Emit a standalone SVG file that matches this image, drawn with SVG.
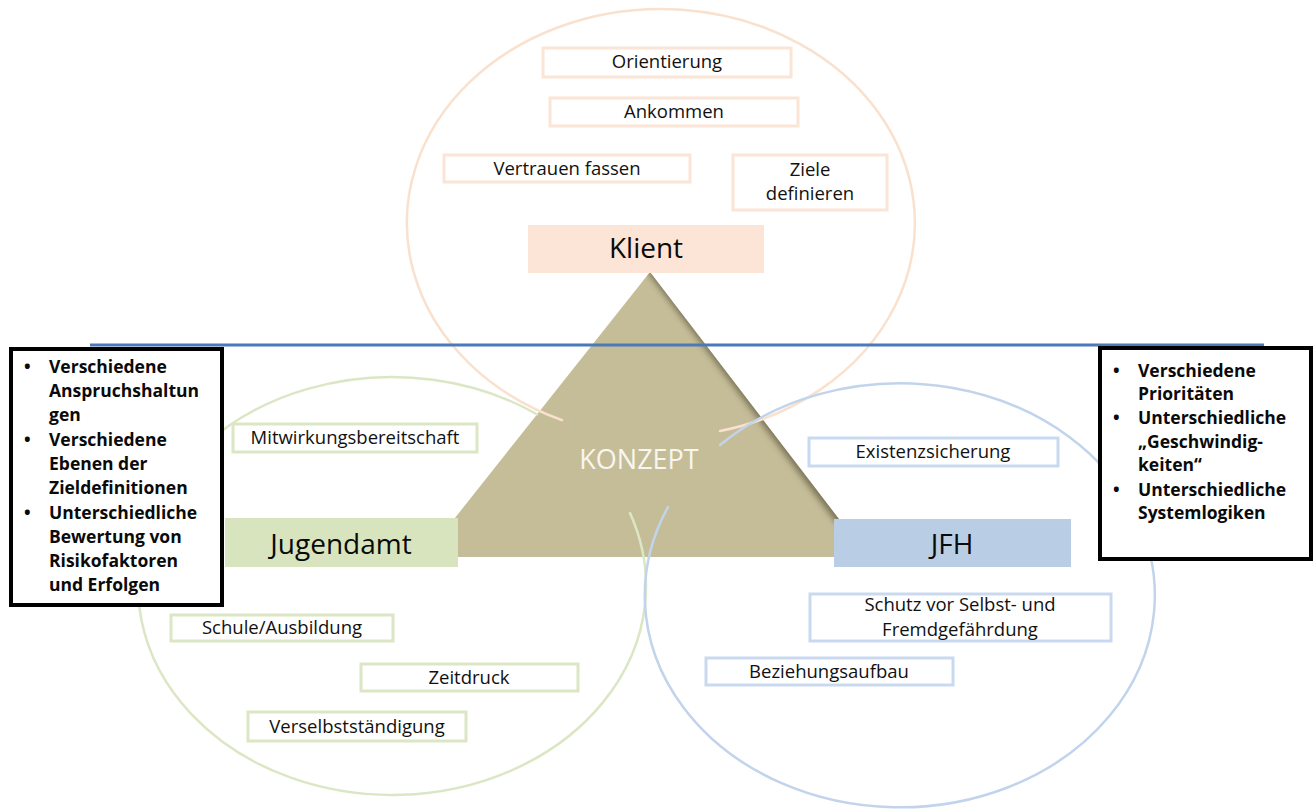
<svg xmlns="http://www.w3.org/2000/svg" width="1316" height="809" viewBox="0 0 1316 809">
  <style>
    .lbl { font-family: "Open Sans", "Liberation Sans", sans-serif; font-size: 18.5px; fill: #111; text-anchor: middle; }
    .big { font-family: "Open Sans", "Liberation Sans", sans-serif; font-size: 28px; fill: #0a0a0a; text-anchor: middle; }
    .bul { font-family: "Open Sans", "Liberation Sans", sans-serif; font-size: 17.5px; font-weight: bold; fill: #0a0a0a; }
    .pbox { fill: #fff; stroke: #fbe5d6; stroke-width: 3; }
    .gbox { fill: #fff; stroke: #dbe6c4; stroke-width: 3; }
    .bbox { fill: #fff; stroke: #c9daf0; stroke-width: 3; }
    .arc { fill: none; stroke-width: 2.5; stroke-linecap: round; }
    .blk { fill: #fff; stroke: #000; stroke-width: 4; }
  </style>
  <defs>
    <clipPath id="triClip">
      <polygon points="650,272 424,557 868,557"/>
    </clipPath>
    <filter id="blur" x="-20%" y="-20%" width="140%" height="140%">
      <feGaussianBlur stdDeviation="3"/>
    </filter>
  </defs>
  <rect width="1316" height="809" fill="#ffffff"/>

  <g id="konzept">
    <polygon points="650,272 424,557 868,557" fill="#c5bd98"/>
    <g clip-path="url(#triClip)">
      <line x1="652" y1="268" x2="872" y2="560" stroke="#5e5840" stroke-width="12" opacity="0.75" filter="url(#blur)"/>
    </g>
    <text x="639" y="469" font-family="'Open Sans', 'Liberation Sans', sans-serif" font-size="27" fill="#f8f6ef" text-anchor="middle">KONZEPT</text>
  </g>

  <g id="circles">
    <path class="arc" stroke="#f9e1ce" d="M562,420.1 A254,214 0 1 1 720,431.1"/>
    <path class="arc" stroke="#dbe7c4" d="M630,513 A254,209 0 1 1 537,414.4"/>
    <path class="arc" stroke="#c2d4ec" d="M720,445 A255,212 0 1 1 668,507"/>
  </g>

  <g id="klient">
    <rect x="528" y="225" width="236" height="48" fill="#fce4d6"/>
    <text class="big" x="646" y="258">Klient</text>
  </g>
  <g id="jugendamt">
    <rect x="225" y="518" width="233" height="49" fill="#d7e4bd"/>
    <text class="big" x="341" y="554">Jugendamt</text>
  </g>
  <g id="jfh">
    <rect x="834" y="519" width="237" height="48" fill="#b9cde5"/>
    <text class="big" x="952" y="554">JFH</text>
  </g>

  <g id="orientierung">
    <rect class="pbox" x="543" y="48" width="248" height="29"/>
    <text class="lbl" x="667" y="68">Orientierung</text>
  </g>
  <g id="ankommen">
    <rect class="pbox" x="550" y="98" width="248" height="28"/>
    <text class="lbl" x="674" y="118">Ankommen</text>
  </g>
  <g id="vertrauen">
    <rect class="pbox" x="444" y="155" width="246" height="27"/>
    <text class="lbl" x="567" y="175">Vertrauen fassen</text>
  </g>
  <g id="ziele">
    <rect class="pbox" x="733" y="155" width="154" height="55"/>
    <text class="lbl" x="810" y="176">Ziele</text>
    <text class="lbl" x="810" y="200">definieren</text>
  </g>

  <g id="mitwirkung">
    <rect class="gbox" x="233" y="424" width="244" height="28"/>
    <text class="lbl" x="355" y="444">Mitwirkungsbereitschaft</text>
  </g>
  <g id="schule">
    <rect class="gbox" x="171" y="615" width="222" height="26"/>
    <text class="lbl" x="282" y="634">Schule/Ausbildung</text>
  </g>
  <g id="zeitdruck">
    <rect class="gbox" x="361" y="664" width="217" height="27"/>
    <text class="lbl" x="469" y="684">Zeitdruck</text>
  </g>
  <g id="verselbst">
    <rect class="gbox" x="248" y="712" width="218" height="29"/>
    <text class="lbl" x="357" y="733">Verselbstständigung</text>
  </g>

  <g id="existenz">
    <rect class="bbox" x="809" y="438" width="249" height="28"/>
    <text class="lbl" x="933" y="458">Existenzsicherung</text>
  </g>
  <g id="schutz">
    <rect class="bbox" x="810" y="594" width="301" height="47"/>
    <text class="lbl" x="960" y="611">Schutz vor Selbst- und</text>
    <text class="lbl" x="960" y="636">Fremdgefährdung</text>
  </g>
  <g id="beziehung">
    <rect class="bbox" x="706" y="658" width="247" height="27"/>
    <text class="lbl" x="829" y="678">Beziehungsaufbau</text>
  </g>

  <g id="connectors">
    <line x1="90" y1="345" x2="1264" y2="345" stroke="#4a7ab8" stroke-width="3"/>
  </g>

  <g id="left-notes">
    <rect class="blk" x="11" y="349" width="211" height="256"/>
    <g class="bul">
      <text x="24" y="373">•</text>
      <text x="49" y="373">Verschiedene</text>
      <text x="49" y="397">Anspruchshaltun</text>
      <text x="49" y="421">gen</text>
      <text x="24" y="446">•</text>
      <text x="49" y="446">Verschiedene</text>
      <text x="49" y="470">Ebenen der</text>
      <text x="49" y="494">Zieldefinitionen</text>
      <text x="24" y="519">•</text>
      <text x="49" y="519">Unterschiedliche</text>
      <text x="49" y="543">Bewertung von</text>
      <text x="49" y="567">Risikofaktoren</text>
      <text x="49" y="591">und Erfolgen</text>
    </g>
  </g>

  <g id="right-notes">
    <rect class="blk" x="1100" y="348" width="211" height="211"/>
    <g class="bul">
      <text x="1113" y="377">•</text>
      <text x="1138" y="377">Verschiedene</text>
      <text x="1138" y="400">Prioritäten</text>
      <text x="1113" y="424">•</text>
      <text x="1138" y="424">Unterschiedliche</text>
      <text x="1138" y="448">„Geschwindig-</text>
      <text x="1138" y="471">keiten“</text>
      <text x="1113" y="496">•</text>
      <text x="1138" y="496">Unterschiedliche</text>
      <text x="1138" y="519">Systemlogiken</text>
    </g>
  </g>
</svg>
